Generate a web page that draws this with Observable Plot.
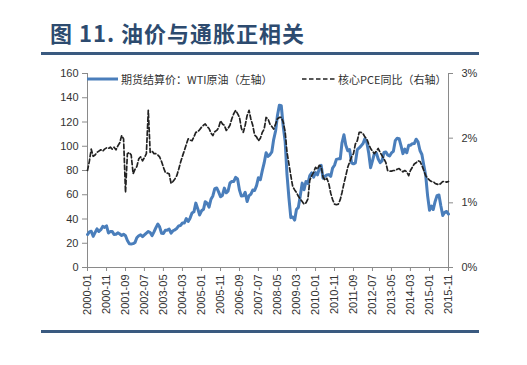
<!DOCTYPE html>
<html>
<head>
<meta charset="utf-8">
<script src="https://cdn.jsdelivr.net/npm/d3@7"></script>
<script src="https://cdn.jsdelivr.net/npm/@observablehq/plot@0.6"></script>
<style>
  body { margin: 0; background: #fff; }
  #wrap { position: relative; width: 527px; height: 365px; overflow: hidden; }
  #title { position: absolute; left: 50px; top: 17px; font: bold 22px "Noto Sans CJK SC", sans-serif; color: #2d4b6f; line-height: 30px; white-space: nowrap; letter-spacing: 1px; }
  .rule { position: absolute; left: 41px; width: 438px; height: 3px; background: #3a5a80; }
  #chart { position: absolute; left: 0; top: 56px; }
  .leg { position: absolute; font: 11px "Noto Sans CJK SC", sans-serif; color: #333; line-height: 14px; white-space: nowrap; display: flex; align-items: center; }
  .leg svg { margin-right: 3px; }
</style>
</head>
<body>
<div id="wrap">
  <div id="title">图 11. 油价与通胀正相关</div>
  <div class="rule" style="top:52px"></div>
  <div id="chart"></div>
  <div class="leg" style="left:87px; top:72px;">
    <svg width="31" height="6"><line x1="0" y1="3" x2="31" y2="3" stroke="#4A7EBB" stroke-width="3"/></svg>
    <span>期货结算价：WTI原油（左轴）</span>
  </div>
  <div class="leg" style="left:302px; top:72px;">
    <svg width="33" height="6"><line x1="0" y1="3" x2="33" y2="3" stroke="#222" stroke-width="1.7" stroke-dasharray="4.5,2.5"/></svg>
    <span>核心PCE同比（右轴）</span>
  </div>
  <div class="rule" style="top:330px"></div>
</div>
<script>
// Monthly, 2000-01 .. 2015-11
const wti = [
  27.2, 29.4, 29.9, 25.7, 28.8, 31.8, 29.7, 31.2, 33.9, 33.1, 34.4, 28.5,
  29.6, 29.6, 27.3, 27.4, 28.6, 27.6, 26.4, 27.4, 26.2, 22.2, 19.6, 19.4,
  19.7, 20.7, 24.5, 26.2, 27.0, 25.5, 26.9, 28.4, 29.7, 28.9, 26.3, 29.4,
  32.9, 35.9, 33.5, 28.3, 28.1, 30.7, 30.8, 31.6, 28.3, 30.3, 31.1, 32.2,
  34.3, 34.7, 36.8, 36.7, 40.3, 38.0, 40.7, 44.9, 45.9, 53.1, 48.5, 43.3,
  46.8, 48.0, 54.3, 53.0, 49.8, 56.3, 59.0, 65.0, 65.6, 62.4, 58.3, 59.4,
  65.5, 61.6, 62.9, 69.7, 70.9, 71.0, 74.4, 73.0, 63.8, 58.9, 59.1, 62.0,
  54.5, 59.3, 60.4, 63.9, 63.5, 67.5, 74.1, 72.4, 79.9, 86.2, 94.6, 91.7,
  93.0, 95.4, 105.5, 112.6, 125.4, 133.9, 133.4, 116.7, 104.1, 76.6, 57.3, 41.1,
  41.7, 39.1, 47.9, 49.6, 59.0, 69.6, 64.1, 71.0, 69.4, 75.7, 78.0, 74.5,
  78.3, 76.4, 81.2, 84.3, 73.7, 75.3, 76.3, 76.6, 75.2, 81.9, 84.3, 89.2,
  89.6, 89.7, 102.9, 109.5, 100.9, 96.3, 97.3, 86.3, 85.5, 86.3, 97.2, 98.6,
  100.3, 102.2, 106.2, 103.3, 94.7, 82.3, 87.9, 94.1, 94.5, 89.5, 86.5, 87.9,
  94.8, 95.3, 92.9, 92.0, 94.5, 95.8, 104.6, 106.6, 106.3, 100.5, 93.9, 97.6,
  94.6, 100.8, 100.8, 102.1, 102.2, 105.8, 103.6, 96.5, 93.2, 84.4, 75.8, 59.3,
  47.2, 50.6, 47.8, 54.5, 59.3, 59.8, 50.9, 42.9, 45.5, 46.2, 44.0
];
const pce = [
  1.50, 1.65, 1.83, 1.72, 1.74, 1.78, 1.80, 1.82, 1.80, 1.83, 1.85, 1.84,
  1.86, 1.83, 1.86, 1.82, 1.88, 1.93, 2.04, 1.99, 1.16, 1.76, 1.78, 1.74,
  1.45, 1.52, 1.56, 1.68, 1.71, 1.65, 1.70, 1.76, 2.43, 1.78, 1.80, 1.76,
  1.76, 1.74, 1.71, 1.64, 1.55, 1.47, 1.46, 1.45, 1.30, 1.33, 1.37, 1.42,
  1.52, 1.63, 1.72, 1.81, 1.90, 1.99, 1.97, 1.96, 2.02, 2.09, 2.10, 2.13,
  2.17, 2.20, 2.22, 2.18, 2.15, 2.08, 2.04, 2.10, 2.12, 2.16, 2.27, 2.22,
  2.20, 2.12, 2.15, 2.20, 2.30, 2.38, 2.43, 2.38, 2.32, 2.15, 2.09, 2.20,
  2.35, 2.43, 2.30, 2.20, 2.05, 2.02, 1.96, 2.00, 2.09, 2.14, 2.32, 2.30,
  2.22, 2.18, 2.14, 2.22, 2.30, 2.32, 2.32, 2.25, 2.10, 1.78, 1.60, 1.42,
  1.25, 1.20, 1.16, 1.10, 1.06, 1.02, 0.98, 1.00, 1.06, 1.35, 1.42, 1.47,
  1.55, 1.52, 1.58, 1.56, 1.40, 1.35, 1.38, 1.30, 1.15, 1.05, 0.98, 0.97,
  0.98, 1.05, 1.16, 1.30, 1.42, 1.55, 1.63, 1.71, 1.76, 1.91, 1.96, 2.09,
  2.09, 2.07, 2.02, 1.99, 1.91, 1.84, 1.80, 1.76, 1.80, 1.84, 1.78, 1.73,
  1.68, 1.62, 1.50, 1.49, 1.49, 1.50, 1.50, 1.52, 1.53, 1.50, 1.48, 1.50,
  1.48, 1.42, 1.50, 1.55, 1.60, 1.62, 1.65, 1.64, 1.58, 1.50, 1.42, 1.38,
  1.35, 1.33, 1.33, 1.30, 1.29, 1.28, 1.30, 1.33, 1.33, 1.32, 1.33
];
const tickLabels = ["2000-01","2000-11","2001-09","2002-07","2003-05","2004-03","2005-01","2005-11","2006-09","2007-07",
  "2008-05","2009-03","2010-01","2010-11","2011-09","2012-07","2013-05","2014-03","2015-01","2015-11"];
const leftTicks = [0, 20, 40, 60, 80, 100, 120, 140, 160];
const rightTicks = [0, 1, 2, 3]; // percent

const parse = d3.utcParse("%Y-%m");
const months = d3.utcMonth.range(parse("2000-01"), d3.utcMonth.offset(parse("2015-11"), 1));
const k = 160 / 3; // right-axis percent -> left-axis units
const data = months.map((d, i) => ({date: d, wti: wti[i], pce: pce[i]}));
const x0 = months[0], x1 = months[months.length - 1];

const chart = Plot.plot({
  width: 527,
  height: 274,
  marginTop: 17,
  marginBottom: 63,
  marginLeft: 87,
  marginRight: 79,
  style: {fontFamily: "'Liberation Sans', Arial, sans-serif", fontSize: "11px", color: "#333", background: "transparent"},
  x: {type: "utc", domain: [x0, x1]},
  y: {domain: [0, 160]},
  marks: [
    Plot.ruleX([x0, x1], {y1: 0, y2: 160, stroke: "#8a8a8a", strokeWidth: 1}),
    Plot.ruleY([0], {stroke: "#8a8a8a", strokeWidth: 1}),
    Plot.axisY({anchor: "left", ticks: leftTicks, tickSize: 5, tickPadding: 4, stroke: "#8a8a8a", fill: "#333", label: null}),
    Plot.axisY({anchor: "right", ticks: rightTicks.map(d => d * k), tickSize: 4, tickPadding: 9, stroke: "#8a8a8a", fill: "#333", label: null,
      tickFormat: d => Math.round(d / k) + "%"}),
    Plot.axisX({ticks: tickLabels.map(parse), tickFormat: d3.utcFormat("%Y-%m"), tickRotate: -90, tickSize: 4, tickPadding: 3,
      stroke: "#8a8a8a", fill: "#333", label: null}),
    Plot.lineY(data, {x: "date", y: "wti", stroke: "#4A7EBB", strokeWidth: 3, strokeLinejoin: "round"}),
    Plot.lineY(data, {x: "date", y: d => d.pce * k, stroke: "#222", strokeWidth: 1.7, strokeDasharray: "4.5,2.5"})
  ]
});
document.getElementById("chart").appendChild(chart);
</script>
</body>
</html>
